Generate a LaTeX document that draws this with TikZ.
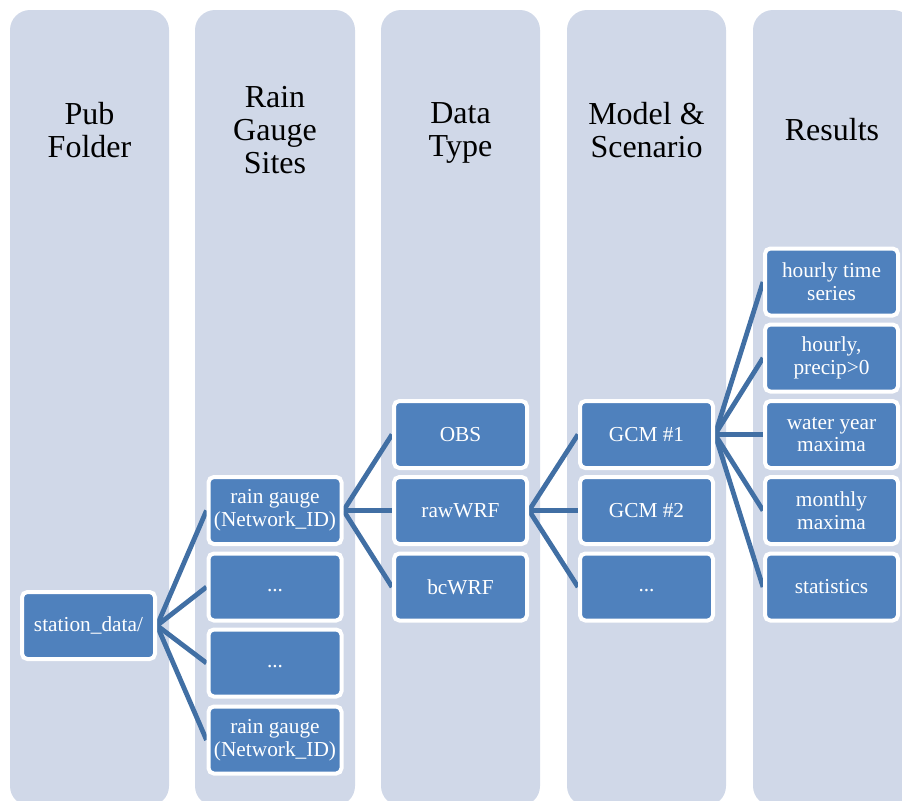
\documentclass[tikz,border=0pt]{standalone}
\usepackage{fontspec}
\setmainfont{Liberation Serif}
\usepackage{xcolor}
\definecolor{colbg}{RGB}{208,216,232}
\definecolor{boxfill}{RGB}{79,129,189}
\definecolor{conn}{RGB}{65,111,164}
\pgfdeclarelayer{cols}
\pgfdeclarelayer{links}
\pgfsetlayers{cols,links,main}
\begin{document}
\begin{tikzpicture}[x=0.75pt,y=-0.75pt,
  colstyle/.style={fill=colbg,rounded corners=15pt},
  head/.style={align=center,font=\fontsize{24}{25}\selectfont,text=black,inner sep=0pt},
  itembox/.style={fill=boxfill,draw=white,line width=3pt,rounded corners=4pt,
    minimum width=99.75pt,minimum height=50.25pt,inner sep=0pt,align=center,
    text=white,font=\fontsize{16}{17}\selectfont},
  link/.style={draw=conn,line width=3.6pt}]
\useasboundingbox (0,0) rectangle (902,800);
\clip (0,0) rectangle (902,800);
\begin{pgfonlayer}{cols}
\fill[colstyle] (10,10) rectangle (169,806);
\fill[colstyle] (195,10) rectangle (355,806);
\fill[colstyle] (381,10) rectangle (540,806);
\fill[colstyle] (567,10) rectangle (726,806);
\fill[colstyle] (753,10) rectangle (913,806);
\end{pgfonlayer}
% headers
\node[head] (h1) at (89.5,130) {Pub\\Folder};
\node[head] (h2) at (275,130) {Rain\\Gauge\\Sites};
\node[head] (h3) at (460.5,133) {Data\\Type};
\node[head] (h4) at (646.5,130) {Model \&\\Scenario};
\node[head] (h5) at (832,130) {Results};
% boxes
\node[itembox] (sd) at (88.5,625.5) {station\_data/};
\node[itembox] (rg1) at (275,510.5) {rain gauge\\(Network\_ID)};
\node[itembox] (rg2) at (275,587) {\vphantom{Ag}...};
\node[itembox] (rg3) at (275,663) {\vphantom{Ag}...};
\node[itembox] (rg4) at (275,740) {rain gauge\\(Network\_ID)};
\node[itembox] (obs) at (460.5,434.5) {OBS};
\node[itembox] (raw) at (460.5,510.5) {rawWRF};
\node[itembox] (bc) at (460.5,587) {bcWRF};
\node[itembox] (g1) at (646.5,434.5) {GCM \#1};
\node[itembox] (g2) at (646.5,510.5) {GCM \#2};
\node[itembox] (g3) at (646.5,587) {\vphantom{Ag}...};
\node[itembox] (r1) at (831.5,282) {hourly time\\series};
\node[itembox] (r2) at (831.5,358) {hourly,\\precip>0};
\node[itembox] (r3) at (831.5,434.5) {water year\\maxima};
\node[itembox] (r4) at (831.5,510.5) {monthly\\maxima};
\node[itembox] (r5) at (831.5,587) {statistics};
\begin{pgfonlayer}{links}
\foreach \c in {rg1,rg2,rg3,rg4} \draw[link] (sd.east) -- (\c.west);
\foreach \c in {obs,raw,bc} \draw[link] (rg1.east) -- (\c.west);
\foreach \c in {g1,g2,g3} \draw[link] (raw.east) -- (\c.west);
\foreach \c in {r1,r2,r3,r4,r5} \draw[link] (g1.east) -- (\c.west);
\end{pgfonlayer}
\end{tikzpicture}
\end{document}
